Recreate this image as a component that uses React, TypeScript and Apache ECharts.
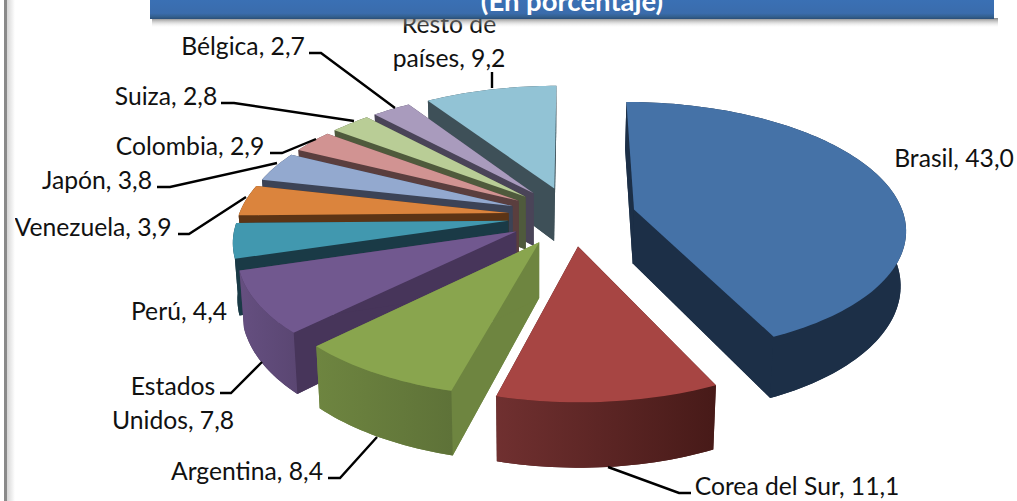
import React, { useEffect, useRef } from "react";
import * as echarts from "echarts";

const countries = ["Brasil", "Corea del Sur", "Argentina", "Estados Unidos", "Perú", "Venezuela", "Japón", "Colombia", "Suiza", "Bélgica", "Resto de países"];
const shares = [43.0, 11.1, 8.4, 7.8, 4.4, 3.9, 3.8, 2.9, 2.8, 2.7, 9.2];

const topColors = ["#4572A7", "#A74543", "#89A54E", "#71588F", "#4198AF", "#DB843D", "#93A9CF", "#D19392", "#B9CD96", "#A99BBD", "#92C3D5"];
const edgeColors = ["#1C2F47", "#4A1C1A", "#6E8540", "#47355A", "#1A3A46", "#5C3415", "#3C4356", "#5A3E3E", "#4F5A3C", "#4A4458", "#3E5058"];
const rimColors = [["#1C2F47", "#1C2F47"], ["#703030", "#471A18"], ["#6E8540", "#5E7238"], ["#654F80", "#5A4672"], ["#1A3A46", "#1A3A46"], ["#5C3415", "#5C3415"], ["#3C4356", "#3C4356"], ["#5A3E3E", "#5A3E3E"], ["#4F5A3C", "#4F5A3C"], ["#4A4458", "#4A4458"], ["#3E5058", "#3E5058"]];

// Label placement: text centre and leader line, per country
const labelLayout: Record<string, { x: number; y: number; line?: number[][] }> = {
  Brasil: { x: 954, y: 157 },
  "Corea del Sur": { x: 797, y: 485, line: [[608, 467], [679, 493], [691, 493]] },
  Argentina: { x: 247, y: 470, line: [[328, 478], [340, 478], [377, 437]] },
  "Estados Unidos": { x: 173, y: 402, line: [[220, 393], [231, 393], [262, 362]] },
  "Perú": { x: 179, y: 310 },
  Venezuela: { x: 93, y: 226, line: [[178, 234], [189, 234], [246, 197]] },
  "Japón": { x: 97, y: 179, line: [[157, 187], [170, 187], [277, 163]] },
  Colombia: { x: 190, y: 145, line: [[270, 153], [282, 153], [316, 139]] },
  Suiza: { x: 166, y: 95, line: [[221, 103], [234, 103], [354, 121]] },
  "Bélgica": { x: 243, y: 45, line: [[309, 53], [321, 53], [395, 108]] },
  "Resto de países": { x: 449, y: 40, line: [[492, 72], [492, 88]] },
};
const labelBreaks: Record<string, string> = { "Estados Unidos": "Estados\nUnidos", "Resto de países": "Resto de\npaíses" };

const CX = 572, CY = 216, VX = 540;
const RADIUS = 270, EXPLODE = 64, TILT = 0.461, PERSP = 0.000522, DEPTH = 54;

function project(X: number, Y: number, z: number) {
  const s = 1 / (1 - PERSP * Y);
  let x = CX + X * s;
  if (z) x = VX + (x - VX) * 0.985;
  return [x, CY + (TILT * Y + z * DEPTH) * s];
}

const total = shares.reduce((a, b) => a + b, 0);
let running = 0;
const slices = shares.map((v, i) => {
  const a0 = (running / total) * Math.PI * 2;
  running += v;
  const a1 = (running / total) * Math.PI * 2;
  return { i, a0, a1, mid: (a0 + a1) / 2 };
});
const drawOrder = [...slices].sort((a, b) => Math.cos(b.mid) - Math.cos(a.mid)).map((s) => s.i);

function renderSlice(_: any, api: any) {
  const idx = api.value(0);
  const sl = slices[idx];
  const ax = EXPLODE * Math.sin(sl.mid), ay = -EXPLODE * Math.cos(sl.mid);
  const steps = Math.max(8, Math.ceil((sl.a1 - sl.a0) * 40));
  const rim: number[][] = [];
  for (let k = 0; k <= steps; k++) {
    const a = sl.a0 + ((sl.a1 - sl.a0) * k) / steps;
    rim.push([ax + RADIUS * Math.sin(a), ay - RADIUS * Math.cos(a)]);
  }
  const top = rim.map((p) => project(p[0], p[1], 0));
  const bot = rim.map((p) => project(p[0], p[1], 1));
  const aT = project(ax, ay, 0), aB = project(ax, ay, 1);
  const poly = (points: number[][], fill: any) => ({ type: "polygon", shape: { points }, style: { fill, stroke: null }, silent: true });
  const rimFill = new echarts.graphic.LinearGradient(0, 0, 1, 0, [
    { offset: 0, color: rimColors[idx][0] },
    { offset: 1, color: rimColors[idx][1] },
  ]);
  return {
    type: "group",
    children: [
      poly([aB, ...bot], edgeColors[idx]),
      poly([aT, top[0], bot[0], aB], edgeColors[idx]),
      poly([aT, top[steps], bot[steps], aB], edgeColors[idx]),
      poly([...top, ...[...bot].reverse()], rimFill),
      poly([aT, ...top], topColors[idx]),
    ],
  };
}

function renderLabel(_: any, api: any) {
  const idx = api.value(0);
  const name = countries[idx];
  const lay = labelLayout[name];
  const text = (labelBreaks[name] || name) + ", " + shares[idx].toFixed(1).replace(".", ",");
  const children: any[] = [
    {
      type: "text",
      x: lay.x,
      y: lay.y,
      style: { text, fill: "#111", font: "24.7px Lato", align: "center", verticalAlign: "middle", lineHeight: 34 },
    },
  ];
  if (lay.line) {
    children.push({ type: "polyline", shape: { points: lay.line }, style: { stroke: "#000", lineWidth: 2.4, fill: null } });
  }
  return { type: "group", children };
}

export default function App() {
  const ref = useRef<HTMLDivElement>(null);
  useEffect(() => {
    document.body.style.margin = "0";
    const chart = echarts.init(ref.current!, undefined, { renderer: "svg" });
    chart.setOption({
      animation: false,
      backgroundColor: "#fff",
      series: [
        { type: "custom", coordinateSystem: "none", z: 2, silent: true, renderItem: renderSlice, data: drawOrder.map((i) => [i]) },
        { type: "custom", coordinateSystem: "none", z: 3, silent: true, renderItem: renderLabel, data: countries.map((_, i) => [i]) },
      ],
      graphic: [
        { type: "rect", z: 50, shape: { x: 4, y: 0, width: 3, height: 501 }, style: { fill: "#8A8A8A" } },
        {
          type: "rect", z: 50, shape: { x: 7, y: 0, width: 8, height: 501 },
          style: { fill: new echarts.graphic.LinearGradient(0, 0, 1, 0, [{ offset: 0, color: "#D6D6D6" }, { offset: 1, color: "#FFFFFF" }]) },
        },
        {
          type: "rect", z: 50, shape: { x: 152, y: 18, width: 846, height: 10 },
          style: { fill: new echarts.graphic.LinearGradient(0, 0, 0, 1, [{ offset: 0, color: "rgba(90,90,90,0.75)" }, { offset: 1, color: "rgba(255,255,255,0)" }]) },
        },
        {
          type: "rect", z: 51, shape: { x: 150, y: 0, width: 844, height: 19 },
          style: { fill: new echarts.graphic.LinearGradient(0, 0, 0, 1, [{ offset: 0, color: "#3A70B4" }, { offset: 0.7, color: "#3A6CAC" }, { offset: 0.88, color: "#33608F" }, { offset: 1, color: "#2A4E78" }]) },
        },
        {
          type: "text", z: 52, x: 572, y: 0,
          style: { text: "(En porcentaje)", fill: "#fff", font: "bold 27.5px Lato", align: "center", verticalAlign: "middle" },
        },
      ],
    });
    return () => chart.dispose();
  }, []);
  return <div ref={ref} style={{ width: 1017, height: 501, position: "absolute", left: 0, top: 0 }} />;
}
